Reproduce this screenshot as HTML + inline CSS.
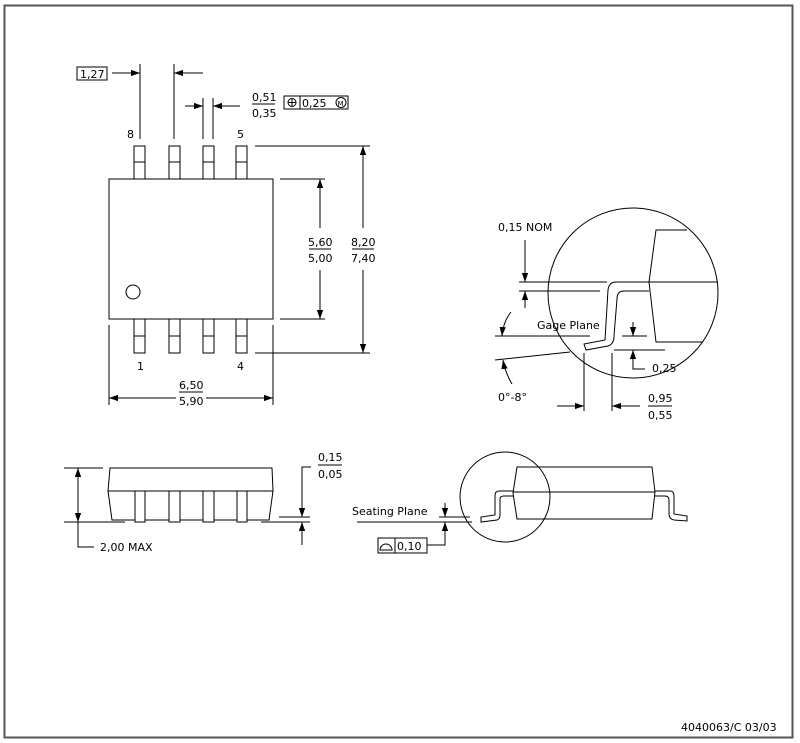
<!DOCTYPE html>
<html><head><meta charset="utf-8"><style>
html,body{margin:0;padding:0;background:#fff;}
svg{display:block;}
text{font-family:"DejaVu Sans","Liberation Sans",sans-serif;font-size:11px;fill:#000;}
</style></head><body>
<svg width="800" height="743" viewBox="0 0 800 743" xmlns="http://www.w3.org/2000/svg">
<defs>
<marker id="a" viewBox="0 0 10 10" refX="10" refY="5" markerWidth="9" markerHeight="9" orient="auto-start-reverse" markerUnits="userSpaceOnUse"><path d="M0,1.5 L10,5 L0,8.5 Z" fill="#000"/></marker>
</defs>
<rect x="4.5" y="5.5" width="788" height="732" fill="none" stroke="#555" stroke-width="2"/>
<g fill="none" stroke="#000" stroke-width="1">
<rect x="109" y="179" width="164" height="140"/>
<circle cx="133" cy="292" r="7"/>
<g>
<rect x="134" y="146" width="11" height="33"/><line x1="134" y1="162" x2="145" y2="162"/>
<rect x="169" y="146" width="11" height="33"/><line x1="169" y1="162" x2="180" y2="162"/>
<rect x="203" y="146" width="11" height="33"/><line x1="203" y1="162" x2="214" y2="162"/>
<rect x="236" y="146" width="11" height="33"/><line x1="236" y1="162" x2="247" y2="162"/>
<rect x="134" y="319" width="11" height="34"/><line x1="134" y1="336" x2="145" y2="336"/>
<rect x="169" y="319" width="11" height="34"/><line x1="169" y1="336" x2="180" y2="336"/>
<rect x="203" y="319" width="11" height="34"/><line x1="203" y1="336" x2="214" y2="336"/>
<rect x="236" y="319" width="11" height="34"/><line x1="236" y1="336" x2="247" y2="336"/>
</g>
<rect x="77" y="67" width="30" height="13"/>
<line x1="140" y1="64" x2="140" y2="139"/>
<line x1="174" y1="64" x2="174" y2="139"/>
<line x1="112" y1="73" x2="140" y2="73" marker-end="url(#a)"/>
<line x1="203" y1="73" x2="174" y2="73" marker-end="url(#a)"/>
<line x1="203" y1="98" x2="203" y2="139"/>
<line x1="213" y1="98" x2="213" y2="139"/>
<line x1="185" y1="106" x2="203" y2="106" marker-end="url(#a)"/>
<line x1="240" y1="106" x2="213" y2="106" marker-end="url(#a)"/>
<line x1="252" y1="104" x2="275" y2="104"/>
<rect x="284" y="96" width="64" height="13"/>
<line x1="300" y1="96" x2="300" y2="109"/>
<circle cx="292" cy="102.5" r="4"/>
<line x1="288" y1="102.5" x2="296" y2="102.5"/><line x1="292" y1="98.5" x2="292" y2="106.5"/>
<circle cx="341" cy="102.5" r="5"/>
<line x1="255" y1="146" x2="370" y2="146"/>
<line x1="255" y1="353" x2="370" y2="353"/>
<line x1="280" y1="179" x2="325" y2="179"/>
<line x1="280" y1="319" x2="325" y2="319"/>
<line x1="320" y1="228" x2="320" y2="179" marker-end="url(#a)"/>
<line x1="320" y1="270" x2="320" y2="319" marker-end="url(#a)"/>
<line x1="309" y1="249" x2="331" y2="249"/>
<line x1="363" y1="228" x2="363" y2="146" marker-end="url(#a)"/>
<line x1="363" y1="270" x2="363" y2="353" marker-end="url(#a)"/>
<line x1="352" y1="249" x2="374" y2="249"/>
<line x1="109" y1="325" x2="109" y2="405"/>
<line x1="273" y1="325" x2="273" y2="405"/>
<line x1="176" y1="398" x2="109" y2="398" marker-end="url(#a)"/>
<line x1="206" y1="398" x2="273" y2="398" marker-end="url(#a)"/>
<line x1="179" y1="392" x2="203" y2="392"/>
<circle cx="633" cy="293" r="85"/>
<path d="M687,230 L656,230 L649,282 L656,342 L702,342"/>
<line x1="649" y1="282" x2="718" y2="282"/>
<path d="M649,282 L616,282 Q609,282 608,290 L605,340 L584,344 L586,350 L608,346 Q614,344 614,336 L617,299 Q617,291 624,291 L649,291"/>
<line x1="519" y1="282" x2="607" y2="282"/>
<line x1="519" y1="291" x2="600" y2="291"/>
<line x1="525" y1="240" x2="525" y2="282" marker-end="url(#a)"/>
<line x1="525" y1="308" x2="525" y2="291" marker-end="url(#a)"/>
<line x1="495" y1="336" x2="590" y2="336"/>
<line x1="495" y1="360" x2="570" y2="352"/>
<path d="M511,312 Q503,322 502,336" marker-end="url(#a)"/>
<path d="M512,384 Q505,372 503,360" marker-end="url(#a)"/>
<line x1="622" y1="336" x2="647" y2="336"/>
<line x1="614" y1="350" x2="665" y2="350"/>
<line x1="633" y1="322" x2="633" y2="336" marker-end="url(#a)"/>
<path d="M645,369 L633,369 L633,350" marker-end="url(#a)"/>
<line x1="584" y1="353" x2="584" y2="411"/>
<line x1="612" y1="353" x2="612" y2="411"/>
<line x1="557" y1="406" x2="584" y2="406" marker-end="url(#a)"/>
<line x1="640" y1="406" x2="612" y2="406" marker-end="url(#a)"/>
<line x1="648" y1="406" x2="672" y2="406"/>
<path d="M110,468 L272,468 L273,491 L269,520 L112,520 L108,491 Z"/>
<line x1="108" y1="491" x2="273" y2="491"/>
<rect x="135" y="491" width="10" height="31" fill="#fff"/>
<rect x="169" y="491" width="11" height="31" fill="#fff"/>
<rect x="203" y="491" width="11" height="31" fill="#fff"/>
<rect x="237" y="491" width="10" height="31" fill="#fff"/>
<line x1="64" y1="468" x2="103" y2="468"/>
<line x1="64" y1="522" x2="125" y2="522"/>
<line x1="78" y1="495" x2="78" y2="468" marker-end="url(#a)"/>
<line x1="78" y1="495" x2="78" y2="522" marker-end="url(#a)"/>
<path d="M78,522 L78,547 L94,547"/>
<line x1="261" y1="522" x2="310" y2="522"/>
<line x1="279" y1="517" x2="310" y2="517"/>
<path d="M311,467 L302,467 L302,517" marker-end="url(#a)"/>
<line x1="302" y1="545" x2="302" y2="522" marker-end="url(#a)"/>
<line x1="318" y1="465" x2="342" y2="465"/>
<circle cx="505" cy="497" r="45"/>
<path d="M517,467 L652,467 L655,492 L652,519 L517,519 L513,493 Z"/>
<line x1="513" y1="492" x2="655" y2="492"/>
<path d="M513,491 L499,491 Q495,491 495,496 L495,515 L481,517 L481,522 L497,520 Q500,519 500,515 L500,499 Q500,496 504,496 L513,496"/>
<path d="M655,491 L670,491 Q674,491 674,496 L674,514 L687,516 L687,521 L674,520 Q669,519 669,514 L669,500 Q669,496 665,496 L654,496"/>
<line x1="357" y1="522" x2="472" y2="522"/>
<line x1="439" y1="517" x2="470" y2="517"/>
<line x1="445" y1="503" x2="445" y2="517" marker-end="url(#a)"/>
<path d="M427,545 L445,545 L445,522" marker-end="url(#a)"/>
<rect x="378" y="538" width="49" height="15"/>
<line x1="395" y1="538" x2="395" y2="553"/>
<path d="M380,550 A6,6 0 0 1 392,550 Z"/>
</g>
<text x="80" y="78">1,27</text>
<text x="252" y="101">0,51</text>
<text x="252" y="117">0,35</text>
<text x="302" y="107">0,25</text>
<text x="337.5" y="106" style="font-size:7px">M</text>
<text x="127" y="138">8</text>
<text x="237" y="138">5</text>
<text x="137" y="370">1</text>
<text x="237" y="370">4</text>
<text x="308" y="246">5,60</text>
<text x="308" y="262">5,00</text>
<text x="351" y="246">8,20</text>
<text x="351" y="262">7,40</text>
<text x="179" y="389">6,50</text>
<text x="179" y="405">5,90</text>
<text x="498" y="231">0,15 NOM</text>
<text x="537" y="329">Gage Plane</text>
<text x="498" y="401">0°-8°</text>
<text x="652" y="372">0,25</text>
<text x="648" y="402">0,95</text>
<text x="648" y="419">0,55</text>
<text x="318" y="461">0,15</text>
<text x="318" y="478">0,05</text>
<text x="100" y="551">2,00 MAX</text>
<text x="352" y="515">Seating Plane</text>
<text x="397" y="550">0,10</text>
<text x="681" y="731">4040063/C 03/03</text>
</svg>
</body></html>
